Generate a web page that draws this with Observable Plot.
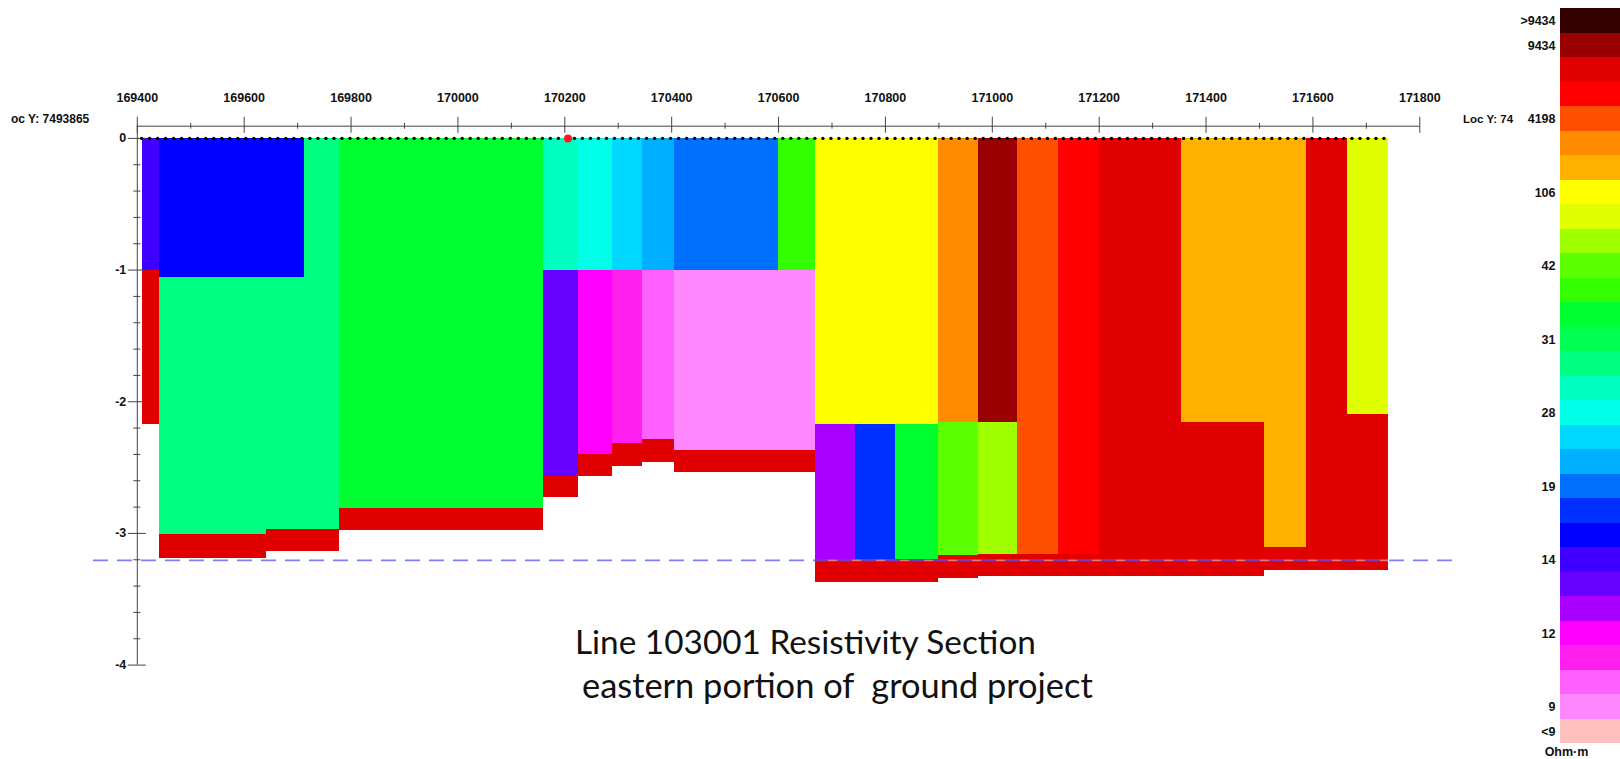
<!DOCTYPE html>
<html>
<head>
<meta charset="utf-8">
<script src="https://cdn.jsdelivr.net/npm/d3@7"></script>
<script src="https://cdn.jsdelivr.net/npm/@observablehq/plot@0.6"></script>
<style>
  html, body { margin: 0; padding: 0; background: #fff; }
  #chart { position: relative; width: 1620px; height: 759px; overflow: hidden; }
  #chart svg { position: absolute; top: 0; }
</style>
</head>
<body>
<div id="chart"></div>
<script>
// Resistivity classes, most resistive first (Ohm·m)
const bandColors = [
  "#330000", "#9a0000", "#e00000", "#ff0000", "#ff5000", "#ff8c00", "#ffb000", "#ffff00",
  "#e0ff00", "#a0ff00", "#5cff00", "#33ff00", "#00ff30", "#00ff50", "#00ff80", "#00ffc0",
  "#00ffe6", "#00d8ff", "#00b0ff", "#0070ff", "#0030ff", "#0000ff", "#4000ff", "#6600ff",
  "#aa00ff", "#ff00ff", "#ff20f0", "#ff60ff", "#ff88ff", "#ffc0c0"
];
const bandLabels = [
  ">9434", "9434", "", "", "4198", "", "", "106", "", "", "42", "", "", "31", "", "",
  "28", "", "", "19", "", "", "14", "", "", "12", "", "", "9", "<9"
];

// Easting of the column edges along line 103001 (m)
const columnEdges = [
  169409, 169442, 169642, 169712, 169779, 170160, 170226, 170289, 170345, 170406,
  170600, 170669, 170744, 170818, 170899, 170974, 171048, 171123, 171201, 171354,
  171509, 171588, 171665, 171741
];

// Bottom elevation of each layer in a column (m), from the surface down
const layerBottoms = [
  [-1.0, -2.17],
  [-1.06, -3.01, -3.19],
  [-1.06, -2.97, -3.14],
  [-2.97, -3.14],
  [-2.81, -2.98],
  [-1.0, -2.57, -2.73],
  [-1.0, -2.4, -2.57],
  [-1.0, -2.32, -2.49],
  [-1.0, -2.29, -2.46],
  [-1.0, -2.37, -2.54],
  [-1.0, -2.37, -2.54],
  [-2.17, -3.2, -3.37],
  [-2.17, -3.2, -3.37],
  [-2.17, -3.2, -3.37],
  [-2.16, -3.17, -3.34],
  [-2.16, -3.16, -3.33],
  [-3.16, -3.33],
  [-3.16, -3.33],
  [-3.33],
  [-2.16, -3.33],
  [-3.11, -3.28],
  [-3.28],
  [-2.1, -3.28]
];

// Resistivity class of each layer (index into bandColors)
const layerBands = [
  [22, 2], [21, 14, 2], [21, 14, 2], [14, 2], [12, 2], [15, 23, 2], [16, 25, 2],
  [17, 26, 2], [18, 27, 2], [19, 28, 2], [11, 28, 2], [7, 24, 2], [7, 20, 2],
  [7, 12, 2], [5, 10, 2], [1, 9, 2], [4, 2], [3, 2], [2], [6, 2], [6, 2], [2], [8, 2]
];

// Survey stations along the surface (easting, m)
const stations = [
  169408, 169423, 169438, 169453, 169468, 169483, 169498, 169513, 169528, 169543,
  169558, 169573, 169588, 169603, 169618, 169633, 169648, 169663, 169678, 169693,
  169708, 169723, 169738, 169753, 169768, 169783, 169798, 169813, 169828, 169843,
  169858, 169873, 169888, 169903, 169918, 169933, 169948, 169963, 169978, 169993,
  170008, 170023, 170038, 170053, 170068, 170083, 170098, 170113, 170128, 170143,
  170158, 170173, 170188, 170203, 170218, 170233, 170248, 170263, 170278, 170293,
  170308, 170323, 170338, 170353, 170368, 170383, 170398, 170413, 170428, 170443,
  170458, 170473, 170488, 170503, 170518, 170533, 170548, 170563, 170578, 170593,
  170608, 170623, 170638, 170653, 170668, 170683, 170698, 170713, 170728, 170743,
  170758, 170773, 170788, 170803, 170818, 170833, 170848, 170863, 170878, 170893,
  170908, 170923, 170938, 170953, 170968, 170983, 170998, 171013, 171028, 171043,
  171058, 171073, 171088, 171103, 171118, 171133, 171148, 171163, 171178, 171193,
  171208, 171223, 171238, 171253, 171268, 171283, 171298, 171313, 171328, 171343,
  171358, 171373, 171388, 171403, 171418, 171433, 171448, 171463, 171478, 171493,
  171508, 171523, 171538, 171553, 171568, 171583, 171598, 171613, 171628, 171643,
  171658, 171673, 171688, 171703, 171718, 171733
];
const activeStation = 170206;

// Reference level drawn across the section (m) and its easting extent
const referenceElevation = -3.205;
const referenceExtent = [169318, 171875];

// Axis ticks
const xTicks = [169400, 169600, 169800, 170000, 170200, 170400, 170600, 170800, 171000, 171200, 171400, 171600, 171800];
const xMinorTicks = [169500, 169700, 169900, 170100, 170300, 170500, 170700, 170900, 171100, 171300, 171500, 171700];
const yTicks = [0, -1, -2, -3, -4];
const yMinorTicks = d3.range(-0.2, -4, -0.2).filter(v => Math.abs(v - Math.round(v)) > 1e-6);

// Layout of the section frame (px)
const W = 1620, H = 759;
const frame = {left: 136.8, right: 1419.3, top: 137.9, bottom: 664.6};
const xDomain = [169400, 171800], yDomain = [-4, 0];
const mPerPx = (xDomain[1] - xDomain[0]) / (frame.right - frame.left);
const elevPerPx = (yDomain[1] - yDomain[0]) / (frame.bottom - frame.top);
const xOff = px => px * mPerPx;
const yOff = px => px * elevPerPx;
const axisLineY = yOff(12.2);
const yAxisX = xDomain[0];

// Flatten columns into rectangles
const cells = [];
layerBottoms.forEach((bottoms, i) => {
  let top = 0;
  bottoms.forEach((bottom, j) => {
    cells.push({x1: columnEdges[i], x2: columnEdges[i + 1], top, bottom, band: layerBands[i][j]});
    top = bottom;
  });
});

const colorScale = {type: "ordinal", domain: d3.range(bandColors.length), range: bandColors};
const labelFont = {fontWeight: "bold", fontSize: 12.5, fill: "#111"};
const axisStroke = "#444";

const section = Plot.plot({
  width: W, height: H,
  marginLeft: frame.left, marginRight: W - frame.right,
  marginTop: frame.top, marginBottom: H - frame.bottom,
  x: {domain: xDomain, axis: null},
  y: {domain: yDomain, axis: null},
  color: colorScale,
  style: {fontFamily: "'Liberation Sans', Arial, sans-serif", background: "white", overflow: "visible"},
  marks: [
    Plot.rect(cells, {x1: "x1", x2: "x2", y1: "top", y2: "bottom", fill: "band", shapeRendering: "crispEdges"}),
    // reference level
    Plot.ruleY([referenceElevation], {x1: referenceExtent[0], x2: referenceExtent[1], stroke: "white", strokeOpacity: 0.45, strokeWidth: 1.6}),
    Plot.ruleY([referenceElevation], {x1: referenceExtent[0], x2: referenceExtent[1], stroke: "#0000ff", strokeOpacity: 0.5, strokeWidth: 1.6, strokeDasharray: "15,9"}),
    // easting axis along the top
    Plot.ruleY([axisLineY], {x1: xDomain[0], x2: xDomain[1], stroke: axisStroke}),
    Plot.ruleX(xTicks, {y1: axisLineY - yOff(7), y2: axisLineY + yOff(9), stroke: axisStroke}),
    Plot.ruleX(xMinorTicks, {y1: axisLineY - yOff(3), y2: axisLineY + yOff(3), stroke: axisStroke}),
    Plot.text(xTicks, {x: d => d, y: axisLineY + yOff(28.7), text: d => String(d), ...labelFont}),
    // elevation axis
    Plot.ruleX([yAxisX], {y1: yDomain[0], y2: axisLineY, stroke: axisStroke}),
    Plot.ruleY(yTicks, {x1: yAxisX - xOff(9), x2: yAxisX + xOff(9), stroke: axisStroke}),
    Plot.ruleY(yMinorTicks, {x1: yAxisX - xOff(3.5), x2: yAxisX + xOff(3.5), stroke: axisStroke}),
    Plot.text(yTicks, {x: yAxisX - xOff(11), y: d => d, text: d => String(d), textAnchor: "end", ...labelFont}),
    // stations
    Plot.dot(stations, {x: d => d, y: 0, r: 1.7, fill: "black"}),
    Plot.dot([activeStation], {x: d => d, y: 0, r: 4, fill: "#ff1a1a"})
  ]
});

const chart = document.getElementById("chart");
section.style.left = "0px";
chart.appendChild(section);

const svg = d3.select(section);
// line location labels
svg.append("text").attr("x", 11).attr("y", 123).attr("text-anchor", "start")
  .attr("font-weight", "bold").attr("font-size", 12).attr("fill", "#111").text("oc Y: 7493865");
svg.append("text").attr("x", 1463).attr("y", 123).attr("text-anchor", "start")
  .attr("font-weight", "bold").attr("font-size", 11.5).attr("fill", "#111").text("Loc Y: 74");

// caption, sized to its line width
const captionLines = [
  {text: "Line 103001 Resistivity Section", x: 575, y: 654, width: 461},
  {text: "eastern portion of  ground project", x: 582, y: 698, width: 511}
];
captionLines.forEach(line => {
  const t = svg.append("text")
    .attr("x", line.x).attr("y", line.y)
    .attr("text-anchor", "start")
    .attr("font-family", "Lato, 'Open Sans', sans-serif")
    .attr("font-size", 34)
    .attr("fill", "#111")
    .style("white-space", "pre")
    .text(line.text);
  const w = t.node().getComputedTextLength();
  if (w > 0) t.attr("font-size", 34 * line.width / w);
});

// resistivity colour bar
const legendLeft = 1514;
const legend = Plot.plot({
  width: W - legendLeft, height: H,
  marginLeft: 1560 - legendLeft, marginRight: 0, marginTop: 8.3, marginBottom: H - 743.3,
  x: {type: "band", domain: ["bar"], padding: 0, round: false, axis: null},
  y: {type: "band", domain: d3.range(bandColors.length), padding: 0, round: false, axis: null},
  color: colorScale,
  style: {fontFamily: "'Liberation Sans', Arial, sans-serif", background: "transparent", overflow: "visible"},
  marks: [
    Plot.cell(d3.range(bandColors.length), {x: () => "bar", y: d => d, fill: d => d, shapeRendering: "crispEdges"}),
    Plot.text(d3.range(bandColors.length).filter(i => bandLabels[i]), {
      y: d => d, text: d => bandLabels[d], frameAnchor: "left", dx: -5, textAnchor: "end", ...labelFont
    }),
    Plot.text(["Ohm·m"], {text: d => d, frameAnchor: "bottom", dx: -24, dy: 12, ...labelFont})
  ]
});
legend.style.left = legendLeft + "px";
chart.appendChild(legend);
</script>
</body>
</html>
